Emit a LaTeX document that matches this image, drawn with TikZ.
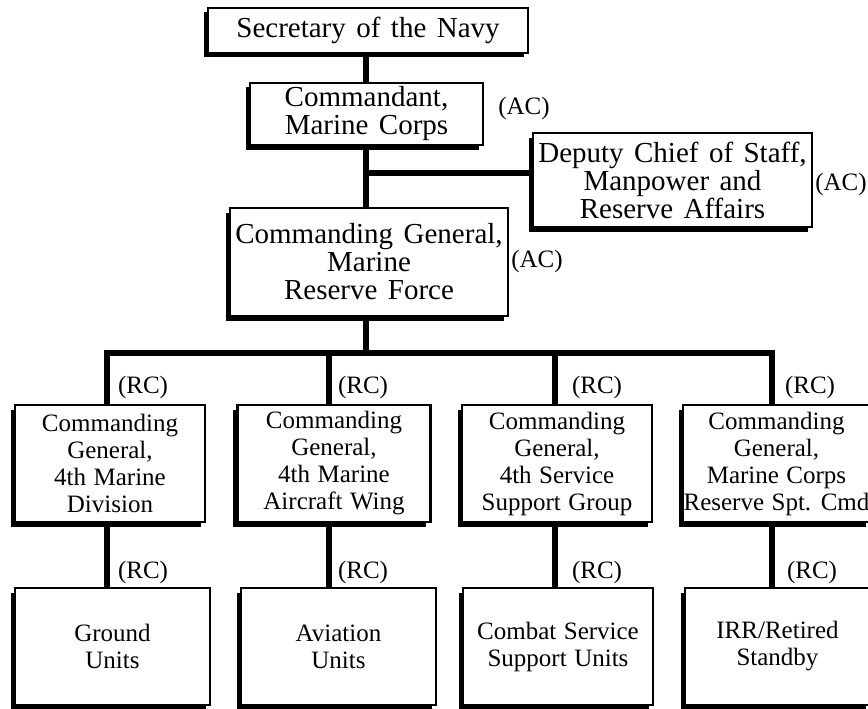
\documentclass[tikz,border=0pt]{standalone}
\usepackage{fontspec}
\setmainfont{Liberation Serif}
\usetikzlibrary{shadows}
\newcommand{\orgbigfont}{\fontsize{29pt}{28pt}\selectfont\spaceskip=0.36em plus 0.1em minus 0.05em\relax}
\newcommand{\orgsmallfont}{\fontsize{25pt}{27pt}\selectfont\spaceskip=0.3em plus 0.1em minus 0.05em\relax}
\begin{document}
\begin{tikzpicture}[x=1pt,y=-1pt,
  box/.style={draw, line width=2.2pt, fill=white, align=center, inner sep=0pt,
    general shadow={fill=black, shadow xshift=-4.5pt, shadow yshift=-4.5pt}},
  big/.style={font=\orgbigfont},
  small/.style={font=\orgsmallfont},
  lbl/.style={font=\fontsize{25pt}{27pt}\selectfont, inner sep=0pt},
  conn/.style={line width=5.5pt, line join=miter}]
\useasboundingbox (0,0) rectangle (868,709);
% top boxes
\node[box,big,minimum width=320pt,minimum height=45pt] (sec) at (368,30.5) {Secretary of the Navy};
\node[box,big,minimum width=233pt,minimum height=62pt] (cmd) at (366.5,114) {Commandant,\\Marine Corps};
\node[box,big,minimum width=279pt,minimum height=94pt] (dep) at (672.5,180) {Deputy Chief of Staff,\\Manpower and\\Reserve Affairs};
\node[box,big,minimum width=278pt,minimum height=108pt] (mrf) at (369,262) {Commanding General,\\Marine\\Reserve Force};
% second row
\node[box,small,minimum width=190pt,minimum height=117pt] (b1) at (110,463.5) {Commanding\\General,\\4th Marine\\Division};
\node[box,small,minimum width=193pt,minimum height=117pt] (b2) at (334,463.5) {Commanding\\General,\\4th Marine\\Aircraft Wing};
\node[box,small,minimum width=190pt,minimum height=117pt] (b3) at (557,463.5) {Commanding\\General,\\4th Service\\Support Group};
\node[box,small,minimum width=187pt,minimum height=117pt] (b4) at (776.5,463.5) {Commanding\\General,\\Marine Corps\\Reserve Spt. Cmd};
% third row
\node[box,small,minimum width=195pt,minimum height=117pt] (c1) at (112.5,646.5) {Ground\\Units};
\node[box,small,minimum width=195pt,minimum height=117pt] (c2) at (338.5,646.5) {Aviation\\Units};
\node[box,small,minimum width=190pt,minimum height=117pt] (c3) at (558,646.5) {Combat Service\\Support Units};
\node[box,small,minimum width=185pt,minimum height=117pt] (c4) at (777.5,646.5) {IRR/Retired\\Standby};
% labels
\node[lbl] (ac1) at (524,108) {(AC)};
\node[lbl] (ac2) at (841,184) {(AC)};
\node[lbl] (ac3) at (537,261) {(AC)};
\node[lbl] (rc1) at (143,387) {(RC)};
\node[lbl] (rc2) at (363,387) {(RC)};
\node[lbl] (rc3) at (597,387) {(RC)};
\node[lbl] (rc4) at (810,387) {(RC)};
\node[lbl] (rc5) at (143,572) {(RC)};
\node[lbl] (rc6) at (363,572) {(RC)};
\node[lbl] (rc7) at (597,572) {(RC)};
\node[lbl] (rc8) at (812,572) {(RC)};
% connectors
\coordinate (spine) at (366,0);
\coordinate (br) at (366,173);
\coordinate (v1) at (107,353);
\coordinate (v2) at (329,353);
\coordinate (v3) at (555,353);
\coordinate (v4) at (772,353);
\draw[conn] (spine |- sec.south) -- (spine |- cmd.north);
\draw[conn] (spine |- cmd.south) -- (spine |- mrf.north);
\draw[conn] (br) -- (br -| dep.west);
\draw[conn] (spine |- mrf.south) -- (spine |- v1);
\draw[conn] (v1 |- b1.north) -- (v1) -- (v4) -- (v4 |- b4.north);
\draw[conn] (v2) -- (v2 |- b2.north);
\draw[conn] (v3) -- (v3 |- b3.north);
\draw[conn] (v1 |- b1.south) -- (v1 |- c1.north);
\draw[conn] (v2 |- b2.south) -- (v2 |- c2.north);
\draw[conn] (v3 |- b3.south) -- (v3 |- c3.north);
\draw[conn] (v4 |- b4.south) -- (v4 |- c4.north);
\end{tikzpicture}
\end{document}
